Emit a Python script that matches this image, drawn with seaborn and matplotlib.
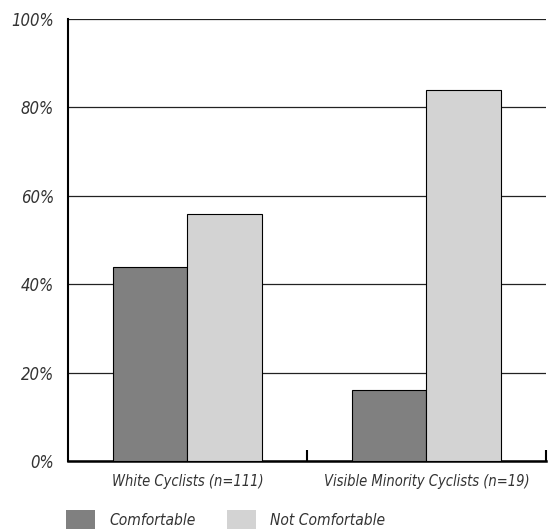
import pandas as pd
import matplotlib.pyplot as plt
import matplotlib.patches as mpatches
import seaborn as sns

# data
groups = ["White Cyclists (n=111)", "Visible Minority Cyclists (n=19)"]
comfortable = [44, 16]
not_comfortable = [56, 84]
series_names = ["Comfortable", "Not Comfortable"]
colors = ["#808080", "#d3d3d3"]

df = pd.DataFrame({
    "group": groups * 2,
    "answer": [series_names[0]] * 2 + [series_names[1]] * 2,
    "pct": comfortable + not_comfortable,
})

sns.set_theme(style="white")
plt.rcParams["font.family"] = ["DejaVu Sans"]
plt.rcParams["font.stretch"] = "condensed"
plt.rcParams["font.style"] = "italic"
plt.rcParams["text.color"] = "#333333"
plt.rcParams["xtick.color"] = "#333333"
plt.rcParams["ytick.color"] = "#333333"

fig = plt.figure(figsize=(5.5, 5.29), dpi=100)
ax = fig.add_axes([0.1236, 0.1285, 0.869, 0.8355])

sns.barplot(data=df, x="group", y="pct", hue="answer", palette=colors,
            width=0.62, edgecolor="black", linewidth=0.8, saturation=1,
            ax=ax, legend=False, zorder=3)

ax.set_xlim(-0.5, 1.5)
ax.set_ylim(0, 100)
ax.set_yticks([0, 20, 40, 60, 80, 100])
ax.set_yticklabels([f"{v}%" for v in [0, 20, 40, 60, 80, 100]], fontsize=12)
ax.tick_params(axis="y", length=0, pad=10)
ax.yaxis.grid(True, color="#222222", linewidth=0.9)
ax.set_axisbelow(True)

ax.set_xticks([0, 1])
ax.set_xticklabels(groups, fontsize=10.5)
ax.tick_params(axis="x", which="major", length=0, pad=9)
ax.set_xticks([0.5, 1.5], minor=True)
ax.tick_params(axis="x", which="minor", bottom=True, direction="in",
               length=8, width=1.5, color="black")

ax.set_xlabel("")
ax.set_ylabel("")
for side in ["top", "right"]:
    ax.spines[side].set_visible(False)
ax.spines["left"].set_linewidth(1.5)
ax.spines["bottom"].set_linewidth(1.8)
ax.spines["left"].set_color("black")
ax.spines["bottom"].set_color("black")

handles = [mpatches.Patch(facecolor=c, edgecolor="none", label=n)
           for c, n in zip(colors, series_names)]
fig.legend(handles=handles, loc="lower left", bbox_to_anchor=(0.12, 0.0),
           ncol=2, frameon=False, fontsize=11.2, handlelength=1.87,
           handleheight=1.5, handletextpad=0.9, columnspacing=2.0,
           borderpad=0, borderaxespad=0)

fig.savefig("out.png", dpi=100)
